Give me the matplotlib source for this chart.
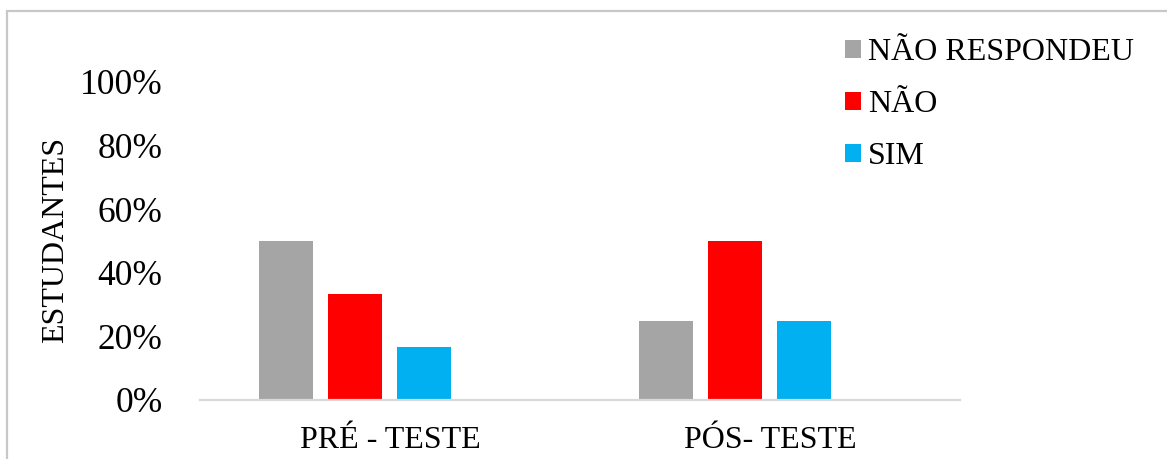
import numpy as np
import matplotlib.pyplot as plt
from matplotlib.patches import Rectangle
from matplotlib.ticker import PercentFormatter

plt.rcParams['font.family'] = ['Liberation Serif', 'DejaVu Serif']

grupos = ['PRÉ - TESTE', 'PÓS- TESTE']
series = ['NÃO RESPONDEU', 'NÃO', 'SIM']
nao_respondeu = [3 / 6, 1 / 4]
nao = [2 / 6, 2 / 4]
sim = [1 / 6, 1 / 4]
cores = ['#a5a5a5', '#ff0000', '#00b0f0']
yticks = [0, 0.2, 0.4, 0.6, 0.8, 1.0]

W, H = 1167, 459
fig = plt.figure(figsize=(W / 100, H / 100), dpi=100)
ax = fig.add_axes([200 / W, (H - 400) / H, 760 / W, 318 / H])

x = np.arange(len(grupos))
largura = 0.142
desloc = [-0.274, -0.092, 0.089]
for vals, cor, nome, d in zip([nao_respondeu, nao, sim], cores, series, desloc):
    ax.bar(x + d, vals, largura, color=cor, label=nome)

ax.set_xlim(-0.5, 1.5)
ax.set_ylim(0, 1)
ax.set_yticks(yticks)
ax.yaxis.set_major_formatter(PercentFormatter(1.0, decimals=0))
ax.set_xticks(x)
ax.set_xticklabels(grupos)
ax.tick_params(axis='both', length=0, colors='black')
ax.tick_params(axis='y', pad=27, labelsize=25.5)
ax.tick_params(axis='x', pad=19, labelsize=23)

for s in ['top', 'right', 'left']:
    ax.spines[s].set_visible(False)
ax.spines['bottom'].set_color('#d9d9d9')
ax.spines['bottom'].set_linewidth(1.6)

fig.text(56 / W, (H - 240) / H, 'ESTUDANTES', rotation=90, fontsize=23,
         ha='center', va='center')

ax.legend(loc='upper left', bbox_to_anchor=(845 / W, (H - 38) / H),
          bbox_transform=fig.transFigure, frameon=False, fontsize=23,
          handlelength=0.5, handleheight=0.5, handletextpad=0.22,
          labelspacing=0.72, borderpad=0, borderaxespad=0)

# moldura cinza do gráfico
fig.patches.append(Rectangle((7 / W, -0.2), 1.2, (H - 11) / H + 0.2,
                             transform=fig.transFigure, fill=False,
                             edgecolor='#c8c8c8', linewidth=1.6))

fig.savefig('out.png', dpi=100)
